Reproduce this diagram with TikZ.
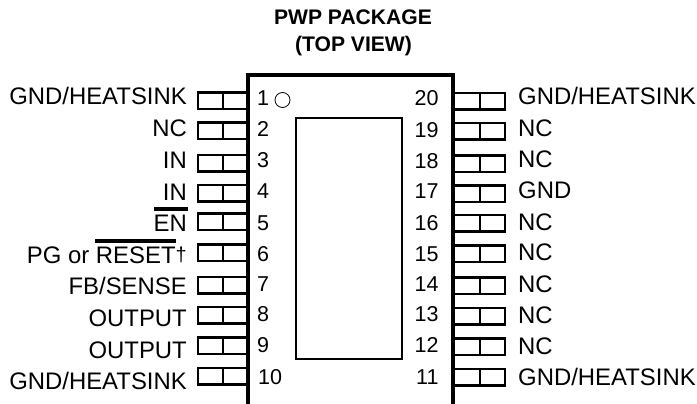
\documentclass[tikz,border=0pt]{standalone}
\usepackage{fontspec}
\setmainfont{Liberation Sans}
\tikzset{
  lbl/.style={inner sep=0pt,font=\fontsize{23.9}{25}\selectfont,text=black},
  llbl/.style={lbl,anchor=base east},
  rlbl/.style={lbl,anchor=base west},
  num/.style={inner sep=0pt,anchor=base west,font=\fontsize{21.5}{24}\selectfont,text=black},
  hd/.style={inner sep=0pt,anchor=base,font=\bfseries\fontsize{21.1}{24}\selectfont},
  pinline/.style={line width=2.1pt,line cap=butt,line join=miter},
  bodyline/.style={line width=3.6pt,line join=miter},
  overbar/.style={line width=3.6pt}
}
\begin{document}
\begin{tikzpicture}[x=1pt,y=-1pt]
\useasboundingbox (0,0) rectangle (697,404);
% header
\node[hd] (h1) at (353,25) {PWP PACKAGE};
\node[hd] (h2) at (353.5,51.5) {(TOP VIEW)};
% left pins
\foreach \t in {92.5,122.5,155,185,213.5,244.5,277,307,337.5,368}{
  \draw[pinline] (248,\t) -- (198,\t) -- (198,\t+16.5) -- (248,\t+16.5);
  \draw[pinline] (223,\t) -- (223,\t+16.5);
}
% right pins
\foreach \t in {93,123,155.5,185.5,215,245.5,277.5,308,338.5,369}{
  \draw[pinline] (453,\t) -- (505,\t) -- (505,\t+16.5) -- (453,\t+16.5);
  \draw[pinline] (480,\t) -- (480,\t+16.5);
}
% body
\draw[bodyline] (248,404) -- (248,75) -- (453,75) -- (453,404);
\node[draw,line width=2.1pt,minimum width=106pt,minimum height=241pt,inner sep=0pt,anchor=north west] (die) at (295,116.7) {};
\node[draw,circle,line width=.8pt,minimum size=15pt,inner sep=0pt] (dot) at (282.5,100) {};
% pin numbers
\foreach \lab/\x/\y in {1/257/106,2/257/136.7,3/257/167.7,4/257/198.3,5/257/230,6/257/261.7,7/257/291.7,8/257/321.7,9/257/352.7,10/258/384,
 20/414.5/106,19/414.5/137.3,18/414.5/168,17/414.5/198,16/414.5/230,15/414.5/261.7,14/414.5/291.7,13/414.5/321.7,12/414.5/352.7,11/416/384}{
  \node[num] (n\lab) at (\x,\y) {\lab};
}
% left labels
\node[llbl] (l1) at (187,105) {GND/HEATSINK};
\node[llbl] (l2) at (187,136.7) {NC};
\node[llbl] (l3) at (187,168.3) {IN};
\node[llbl] (l4) at (187,200) {IN};
\node[llbl] (l5) at (187,231.7) {EN};
\node[llbl] (l6) at (187,263.3) {PG or RESET\raisebox{2pt}{\fontsize{20}{20}\selectfont†}};
\node[llbl] (l7) at (187,294.3) {FB/SENSE};
\node[llbl] (l8) at (187,326.5) {OUTPUT};
\node[llbl] (l9) at (187,358) {OUTPUT};
\node[llbl] (l10) at (187,389.3) {GND/HEATSINK};
% overbars
\draw[overbar] (154,209) -- (188,209);
\draw[overbar] (95,241) -- (176,241);
% right labels
\node[rlbl] (r20) at (518,105) {GND/HEATSINK};
\node[rlbl] (r19) at (518,136.7) {NC};
\node[rlbl] (r18) at (518,167.7) {NC};
\node[rlbl] (r17) at (518,198.3) {GND};
\node[rlbl] (r16) at (518,230) {NC};
\node[rlbl] (r15) at (518,260.7) {NC};
\node[rlbl] (r14) at (518,292.3) {NC};
\node[rlbl] (r13) at (518,323.3) {NC};
\node[rlbl] (r12) at (518,354) {NC};
\node[rlbl] (r11) at (518,385) {GND/HEATSINK};
\end{tikzpicture}
\end{document}
